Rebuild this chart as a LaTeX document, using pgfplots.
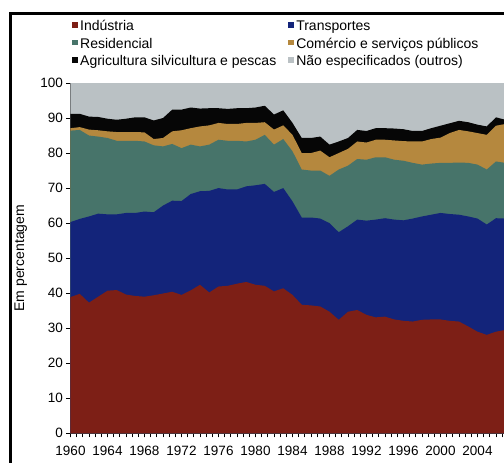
\documentclass[border=0pt]{standalone}
\usepackage{pgfplots}
\usepackage{pgfplotstable}
\pgfplotsset{compat=1.18}
\usepackage{fontspec}
\setmainfont{Liberation Sans}
\definecolor{cInd}{RGB}{125,31,22}
\definecolor{cTra}{RGB}{19,36,122}
\definecolor{cRes}{RGB}{71,116,106}
\definecolor{cCom}{RGB}{181,136,62}
\definecolor{cAgr}{RGB}{6,6,6}
\definecolor{cOut}{RGB}{186,193,196}

% cumulative tops of the stacked areas (percent)
\pgfplotstableread{
year I T R C A
1960 38.9 60.3 86.4 87.1 91.2
1961 39.8 61.2 86.6 87.4 91.2
1962 37.3 61.9 85.0 86.7 90.4
1963 39.0 62.7 84.7 86.5 90.3
1964 40.7 62.5 84.3 86.2 89.8
1965 40.9 62.5 83.5 86.0 89.5
1966 39.6 62.9 83.5 86.0 89.8
1967 39.2 62.9 83.5 86.0 90.2
1968 39.0 63.3 83.3 85.9 90.2
1969 39.4 63.1 82.2 84.0 89.3
1970 39.9 65.0 81.9 84.3 90.0
1971 40.4 66.4 82.6 86.2 92.4
1972 39.5 66.3 81.4 86.5 92.4
1973 40.8 68.3 82.4 87.1 93.0
1974 42.4 69.1 81.9 87.6 92.7
1975 40.2 69.2 82.4 87.9 92.8
1976 41.9 70.0 83.8 88.6 92.8
1977 42.1 69.6 83.5 88.3 92.6
1978 42.7 69.6 83.5 88.3 92.8
1979 43.2 70.5 83.3 88.6 92.8
1980 42.4 70.8 83.8 88.6 93.0
1981 42.1 71.2 85.2 88.8 93.5
1982 40.5 68.9 82.4 86.7 91.0
1983 41.4 70.0 84.0 87.9 92.2
1984 39.5 66.2 80.5 85.2 88.6
1985 36.7 61.6 75.3 80.0 84.3
1986 36.5 61.6 75.0 80.0 84.3
1987 36.2 61.3 75.0 80.7 84.7
1988 34.7 60.0 73.5 78.8 82.4
1989 32.4 57.4 75.3 80.0 83.3
1990 34.7 59.1 76.4 81.2 84.3
1991 35.2 61.0 78.3 83.3 86.6
1992 33.8 60.7 78.1 83.0 86.3
1993 33.1 61.0 78.8 83.8 87.1
1994 33.3 61.4 78.8 83.8 87.1
1995 32.5 61.0 78.1 83.6 87.0
1996 32.1 60.8 77.8 83.4 86.8
1997 31.9 61.3 77.2 83.3 86.3
1998 32.4 61.9 76.7 83.3 86.3
1999 32.5 62.4 77.0 84.0 87.1
2000 32.5 62.9 77.2 84.4 87.8
2001 32.1 62.6 77.2 85.7 88.5
2002 31.9 62.4 77.3 86.6 89.2
2003 30.5 61.9 77.2 86.2 88.8
2004 29.0 61.3 76.7 85.7 88.1
2005 28.1 59.6 75.3 85.2 87.6
2006 29.0 61.4 77.6 87.8 90.2
2007 29.5 61.3 77.2 88.3 89.5
}\data

\begin{document}
\begin{tikzpicture}
\begin{axis}[
  at={(70.5pt,29.7pt)}, anchor=south west, scale only axis,
  width=433.5pt, height=350.3pt,
  xmin=1960, xmax=2006.865, ymin=0, ymax=100,
  axis x line*=bottom, axis y line*=left,
  axis line style={line width=1.2pt, -},
  tick align=outside,
  major tick length=4pt, minor tick length=4pt,
  every tick/.style={black, line width=0.8pt},
  every minor tick/.style={black, line width=0.8pt},
  xtick={1960,1964,...,2004},
  xticklabels={1960,1964,1968,1972,1976,1980,1984,1988,1992,1996,2000,2004},
  minor xtick={1960,1960.6667,...,2006.8},
  ytick={0,10,...,100},
  /pgf/number format/assume math mode=true,
  tick label style={font=\fontsize{13.5}{15}\selectfont},
  xticklabel style={yshift=-5pt},
  ylabel={Em percentagem},
  ylabel style={at={(axis description cs:-0.115,0.5)}, anchor=center, font=\fontsize{14}{16}\selectfont},
  legend columns=2,
  reverse legend,
  legend cell align=left,
  legend image code/.code={\fill[#1] (0pt,-0.75pt) rectangle (5.5pt,4.75pt);},
  legend style={at={(axis description cs:0.0035,1.185)}, anchor=north west,
    draw=none, fill=none, inner sep=0pt, column sep=0pt, row sep=0pt,
    font=\fontsize{14}{16}\selectfont,
    nodes={inner xsep=2.5pt, inner ysep=2pt, text height=10.5pt, text depth=3pt},
    /tikz/every even column/.append style={column sep=9.5pt}},
]
\addplot[fill=cOut, draw=none] coordinates {(1960,100) (2007,100)} \closedcycle;
\addlegendentry{Não especificados (outros)}
\addplot[fill=cAgr, draw=none] table[x=year, y=A] {\data} \closedcycle;
\addlegendentry{Agricultura silvicultura e pescas}
\addplot[fill=cCom, draw=none] table[x=year, y=C] {\data} \closedcycle;
\addlegendentry{Comércio e serviços públicos}
\addplot[fill=cRes, draw=none] table[x=year, y=R] {\data} \closedcycle;
\addlegendentry{Residencial}
\addplot[fill=cTra, draw=none] table[x=year, y=T] {\data} \closedcycle;
\addlegendentry{Transportes}
\addplot[fill=cInd, draw=none] table[x=year, y=I] {\data} \closedcycle;
\addlegendentry{Indústria}
\end{axis}
\draw[line width=2.5pt] (10.5pt,0pt) -- (10.5pt,449.5pt) -- (504pt,449.5pt);
\pgfresetboundingbox
\path[use as bounding box] (0pt,0pt) rectangle (504pt,463pt);
\end{tikzpicture}
\end{document}
